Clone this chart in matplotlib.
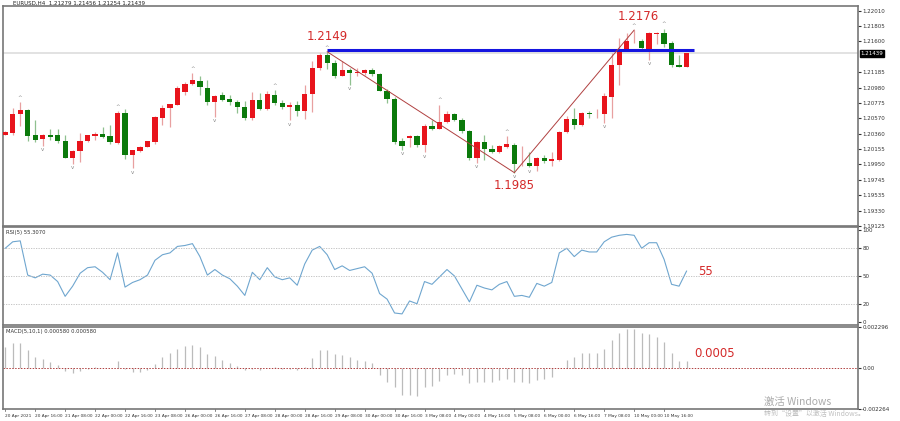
import numpy as np
import matplotlib
matplotlib.use("Agg")
import matplotlib.pyplot as plt

# EURUSD H4 candles (bullish = red, bearish = green)
opens = [1.2035, 1.2037, 1.2062, 1.2068, 1.2034, 1.2029, 1.2034, 1.2034, 1.2026, 1.2004,
         1.2013, 1.2026, 1.2033, 1.2036, 1.2033, 1.2024, 1.2064, 1.2007, 1.2013, 1.2019,
         1.2025, 1.2057, 1.2070, 1.2075, 1.2092, 1.2103, 1.2107, 1.2098, 1.2079, 1.2088,
         1.2083, 1.2079, 1.2072, 1.2057, 1.2081, 1.2069, 1.2088, 1.2077, 1.2072, 1.2074,
         1.2066, 1.2089, 1.2124, 1.2141, 1.2131, 1.2114, 1.2122, 1.2117, 1.2117, 1.2121,
         1.2116, 1.2094, 1.2083, 1.2026, 1.2031, 1.2033, 1.2021, 1.2046, 1.2043, 1.2052,
         1.2062, 1.2055, 1.2040, 1.2003, 1.2025, 1.2016, 1.2012, 1.2019, 1.2021, 1.1995,
         1.1997, 1.1993, 1.2003, 1.1999, 1.2001, 1.2039, 1.2056, 1.2048, 1.2064, 1.2062,
         1.2063, 1.2086, 1.2128, 1.2149, 1.2160, 1.2161, 1.2150, 1.2170, 1.2171, 1.2158,
         1.2128, 1.2126]
highs = [1.2040, 1.2071, 1.2079, 1.2069, 1.2055, 1.2036, 1.2043, 1.2042, 1.2034, 1.2015,
         1.2037, 1.2035, 1.2038, 1.2045, 1.2048, 1.2066, 1.2069, 1.2015, 1.2020, 1.2027,
         1.2060, 1.2074, 1.2076, 1.2100, 1.2105, 1.2117, 1.2114, 1.2108, 1.2088, 1.2092,
         1.2088, 1.2082, 1.2080, 1.2092, 1.2091, 1.2093, 1.2095, 1.2082, 1.2078, 1.2080,
         1.2102, 1.2133, 1.2144, 1.2146, 1.2135, 1.2133, 1.2124, 1.2124, 1.2123, 1.2124,
         1.2117, 1.2096, 1.2086, 1.2030, 1.2034, 1.2034, 1.2049, 1.2055, 1.2075, 1.2066,
         1.2064, 1.2057, 1.2041, 1.2026, 1.2034, 1.2021, 1.2021, 1.2033, 1.2024, 1.2020,
         1.2011, 1.2005, 1.2008, 1.2011, 1.2040, 1.2060, 1.2071, 1.2065, 1.2067, 1.2069,
         1.2091, 1.2144, 1.2164, 1.2171, 1.2175, 1.2163, 1.2172, 1.2172, 1.2177, 1.2161,
         1.2142, 1.2144]
lows = [1.2034, 1.2035, 1.2047, 1.2026, 1.2025, 1.2020, 1.2028, 1.2024, 1.2003, 1.1996,
        1.1998, 1.2025, 1.2028, 1.2031, 1.2023, 1.2022, 1.2002, 1.1990, 1.2012, 1.2018,
        1.2022, 1.2048, 1.2045, 1.2074, 1.2088, 1.2102, 1.2088, 1.2075, 1.2059, 1.2080,
        1.2074, 1.2064, 1.2055, 1.2055, 1.2068, 1.2068, 1.2075, 1.2069, 1.2054, 1.2060,
        1.2056, 1.2065, 1.2122, 1.2123, 1.2111, 1.2113, 1.2102, 1.2113, 1.2115, 1.2114,
        1.2093, 1.2077, 1.2023, 1.2015, 1.2019, 1.2019, 1.2011, 1.2041, 1.2042, 1.2051,
        1.2053, 1.2037, 1.2001, 1.1997, 1.2001, 1.2010, 1.2010, 1.2017, 1.1984, 1.1993,
        1.1991, 1.1986, 1.1997, 1.1993, 1.2000, 1.2037, 1.2043, 1.2047, 1.2057, 1.2057,
        1.2051, 1.2057, 1.2101, 1.2148, 1.2158, 1.2149, 1.2135, 1.2157, 1.2153, 1.2126,
        1.2126, 1.2125]
closes = [1.2039, 1.2062, 1.2068, 1.2033, 1.2028, 1.2034, 1.2032, 1.2026, 1.2004, 1.2013,
          1.2027, 1.2034, 1.2036, 1.2032, 1.2025, 1.2064, 1.2007, 1.2014, 1.2019, 1.2026,
          1.2058, 1.2071, 1.2076, 1.2097, 1.2103, 1.2108, 1.2099, 1.2079, 1.2087, 1.2082,
          1.2078, 1.2072, 1.2057, 1.2081, 1.2069, 1.2089, 1.2077, 1.2072, 1.2074, 1.2066,
          1.2089, 1.2124, 1.2141, 1.2131, 1.2114, 1.2122, 1.2117, 1.2119, 1.2121, 1.2116,
          1.2094, 1.2083, 1.2025, 1.2020, 1.2033, 1.2021, 1.2046, 1.2042, 1.2052, 1.2062,
          1.2055, 1.2040, 1.2003, 1.2025, 1.2016, 1.2012, 1.2020, 1.2022, 1.1996, 1.1996,
          1.1993, 1.2003, 1.1999, 1.2002, 1.2039, 1.2056, 1.2048, 1.2064, 1.2062, 1.2063,
          1.2087, 1.2128, 1.2149, 1.2161, 1.2161, 1.2151, 1.2171, 1.2171, 1.2157, 1.2128,
          1.2126, 1.21439]

rsi = [80, 87, 88, 51, 48, 52, 51, 44, 28, 39, 53, 59, 60, 54, 46, 75, 38, 43, 46, 51,
       67, 73, 75, 82, 83, 85, 71, 51, 57, 51, 47, 39, 29, 54, 46, 59, 49, 46, 48, 40,
       63, 78, 82, 73, 57, 61, 56, 58, 60, 53, 31, 25, 10, 9, 23, 20, 44, 41, 49, 57,
       50, 36, 22, 40, 37, 35, 41, 44, 28, 29, 27, 42, 39, 43, 75, 80, 71, 78, 76, 76,
       87, 92, 94, 95, 94, 80, 86, 86, 68, 41, 39, 55.3]

macd = [0.00120, 0.00138, 0.00142, 0.00099, 0.00064, 0.00050, 0.00035, 0.00017, -0.00017, -0.00026,
        -0.00017, -0.00005, 0.00009, 0.00002, 0.00003, 0.00040, -0.00005, -0.00022, -0.00022, -0.00012,
        0.00026, 0.00064, 0.00083, 0.00109, 0.00126, 0.00130, 0.00116, 0.00081, 0.00067, 0.00047,
        0.00029, 0.00012, -0.00012, -0.00005, -0.00009, 0.00003, 0.00005, -0.00002, -0.00005, -0.00012,
        0.00009, 0.00057, 0.00099, 0.00104, 0.00081, 0.00074, 0.00064, 0.00047, 0.00043, 0.00029,
        -0.00035, -0.00078, -0.00104, -0.00150, -0.00147, -0.00156, -0.00104, -0.00099, -0.00069, -0.00038,
        -0.00029, -0.00040, -0.00081, -0.00078, -0.00078, -0.00078, -0.00064, -0.00057, -0.00074, -0.00078,
        -0.00081, -0.00064, -0.00057, -0.00047, 0.00002, 0.00047, 0.00064, 0.00085, 0.00085, 0.00085,
        0.00106, 0.00157, 0.00199, 0.00220, 0.00216, 0.00195, 0.00190, 0.00173, 0.00144, 0.00085,
        0.00043, 0.00040]

time_labels = ["20 Apr 2021", "20 Apr 16:00", "21 Apr 08:00", "22 Apr 00:00", "22 Apr 16:00",
               "23 Apr 08:00", "26 Apr 00:00", "26 Apr 16:00", "27 Apr 08:00", "28 Apr 00:00",
               "28 Apr 16:00", "29 Apr 08:00", "30 Apr 00:00", "30 Apr 16:00", "3 May 08:00",
               "4 May 00:00", "4 May 16:00", "5 May 08:00", "6 May 00:00", "6 May 16:00",
               "7 May 08:00", "10 May 00:00", "10 May 16:00"]

price_ticks = [1.22010, 1.21805, 1.21600, 1.21185, 1.20980, 1.20775, 1.20570, 1.20360,
               1.20155, 1.19950, 1.19745, 1.19535, 1.19330, 1.19125]

frac_up = [2, 15, 25, 36, 43, 58, 67, 84, 88]
frac_dn = [5, 9, 17, 28, 38, 46, 53, 56, 63, 68, 70, 80, 86]
zigzag_idx = [43, 68, 84]
zigzag_val = [1.2146, 1.1984, 1.2175]
level = 1.2149

W, H = 900, 421
fig = plt.figure(figsize=(W / 100, H / 100), dpi=100)
fig.patch.set_facecolor("white")

def box(x0, y0, x1, y1):
    return [x0 / W, 1 - y1 / H, (x1 - x0) / W, (y1 - y0) / H]

ax = fig.add_axes(box(3, 6, 858, 226))
ax_rsi = fig.add_axes(box(3, 227, 858, 325))
ax_macd = fig.add_axes(box(3, 327, 858, 409))

n = len(opens)
x = np.arange(n)
xlim = (-0.3, 113.9)
for a in (ax, ax_rsi, ax_macd):
    a.set_xlim(*xlim)
    a.set_xticks([])
    a.yaxis.tick_right()
    a.tick_params(axis="y", labelsize=4.0, length=2, pad=1, colors="#333333")
    for s in a.spines.values():
        s.set_color("#777777")
        s.set_linewidth(1.2)

red, green = "#e8141c", "#0b7a0b"
for i in range(n):
    o, h, l, c = opens[i], highs[i], lows[i], closes[i]
    col = red if c >= o else green
    wick = "#e8a0a0" if c >= o else "#8fc08f"
    ax.vlines(x[i], l, h, color=wick, lw=0.9, zorder=2)
    lo, hi = min(o, c), max(o, c)
    if hi - lo < 0.00006:
        lo, hi = (lo + hi) / 2 - 0.00003, (lo + hi) / 2 + 0.00003
    ax.add_patch(plt.Rectangle((x[i] - 0.35, lo), 0.7, hi - lo, color=col, zorder=3, lw=0))

for i in frac_up:
    ax.text(x[i], highs[i] + 0.0003, "^", ha="center", va="bottom", fontsize=4, color="#888888")
for i in frac_dn:
    ax.text(x[i], lows[i] - 0.0002, "v", ha="center", va="top", fontsize=4, color="#888888")

ax.axhline(closes[-1], color="#dddddd", lw=1.2, zorder=1)
ax.hlines(level, 43, 92, color="#1515e0", lw=2.2, zorder=4)
ax.plot(zigzag_idx, zigzag_val, color="#b04040", lw=0.7, zorder=4)
ax.text(43, 1.2158, "1.2149", color="#d42a2a", fontsize=8.5, ha="center", va="bottom")
ax.text(68, 1.1976, "1.1985", color="#d42a2a", fontsize=8.5, ha="center", va="top")
ax.text(84.5, 1.2185, "1.2176", color="#d42a2a", fontsize=8.5, ha="center", va="bottom")

ax.set_ylim(1.19138, 1.22073)
ax.set_yticks(price_ticks)
ax.set_yticklabels([f"{v:.5f}" for v in price_ticks])
ax.text(1.003, closes[-1], f"{closes[-1]:.5f}", transform=ax.get_yaxis_transform(),
        fontsize=4.0, color="white", va="center", ha="left",
        bbox=dict(boxstyle="square,pad=0.15", fc="black", ec="black"))
ax.text(0.012, 1.0, "EURUSD,H4  1.21279 1.21456 1.21254 1.21439", transform=ax.transAxes,
        fontsize=4, va="bottom", ha="left", color="#222222")

# RSI panel
ax_rsi.plot(x, rsi, color="#6fa6cf", lw=0.8)
for lv in (80, 50, 20):
    ax_rsi.axhline(lv, color="#bbbbbb", lw=0.6, ls=(0, (1.5, 1.5)))
ax_rsi.set_ylim(-3, 103)
ax_rsi.set_yticks([0, 20, 50, 80, 100])
ax_rsi.text(0.003, 0.97, "RSI(5) 55.3070", transform=ax_rsi.transAxes, fontsize=3.8,
            va="top", color="#333333")
ax_rsi.text(92.5, 55, "55", color="#d42a2a", fontsize=8.5, va="center")

# MACD panel
ax_macd.vlines(x, 0, macd, color="#bbbbbb", lw=0.9)
ax_macd.axhline(0, color="#b04040", lw=0.7, ls=(0, (1.5, 1.5)))
ax_macd.set_ylim(-0.002264, 0.002296)
ax_macd.set_yticks([0.002296, 0.0, -0.002264])
ax_macd.set_yticklabels(["0.002296", "0.00", "-0.002264"])
ax_macd.text(0.003, 0.97, "MACD(5,10,1) 0.000580 0.000580", transform=ax_macd.transAxes,
             fontsize=3.8, va="top", color="#333333")
ax_macd.text(92, 0.0008, "0.0005", color="#d42a2a", fontsize=8.5, va="center")

# time axis
for k, lab in enumerate(time_labels):
    xi = k * 4
    ax_macd.text(xi, -0.06, lab, transform=ax_macd.get_xaxis_transform(), fontsize=3.1,
                 ha="left", va="top", color="#333333")
    ax_macd.plot([xi, xi], [0, -0.02], transform=ax_macd.get_xaxis_transform(),
                 color="#555555", lw=0.5, clip_on=False)

fig.text(764 / W, 1 - 402 / H, "激活 Windows", fontsize=7.5, color="#aaaaaa",
         fontfamily="Noto Sans CJK SC", va="center")
fig.text(764 / W, 1 - 414 / H, "转到“设置”以激活 Windows。", fontsize=5, color="#c0c0c0",
         fontfamily="Noto Sans CJK SC", va="center")

fig.savefig("out.png", dpi=100)
